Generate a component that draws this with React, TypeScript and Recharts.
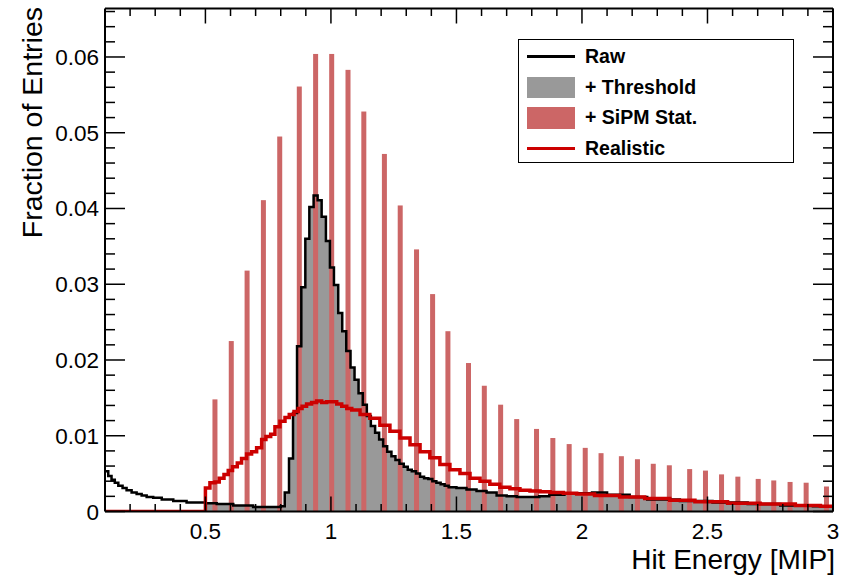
import React from "react";
import { ComposedChart, XAxis, YAxis, Line, Area, Bar } from "recharts";

// ---------- data ----------
// Raw histogram (step edges, value holds until next edge)
const rawX = [0.1, 0.113, 0.126, 0.139, 0.153, 0.17, 0.186, 0.206, 0.226, 0.246, 0.266, 0.292, 0.326, 0.372, 0.425, 0.5, 0.545, 0.611, 0.69, 0.8, 0.816, 0.833, 0.849, 0.865, 0.882, 0.898, 0.914, 0.931, 0.947, 0.963, 0.98, 0.996, 1.012, 1.029, 1.045, 1.061, 1.078, 1.094, 1.11, 1.127, 1.143, 1.159, 1.176, 1.192, 1.208, 1.224, 1.241, 1.257, 1.273, 1.29, 1.306, 1.322, 1.339, 1.355, 1.371, 1.388, 1.404, 1.42, 1.437, 1.453, 1.469, 1.5, 1.54, 1.58, 1.62, 1.66, 1.7, 1.74, 1.83, 1.87, 1.93, 2.04, 2.1, 2.19, 2.26, 2.39, 2.52, 2.66, 2.79, 2.92, 3.0];
const rawY = [0.0053, 0.0047, 0.0042, 0.0038, 0.0034, 0.0031, 0.0028, 0.0025, 0.0023, 0.0021, 0.0019, 0.0018, 0.0016, 0.0014, 0.0012, 0.0011, 0.001, 0.0008, 0.0006, 0.0007, 0.0025, 0.007, 0.013, 0.0218, 0.0296, 0.036, 0.0402, 0.0417, 0.0411, 0.0389, 0.0357, 0.0322, 0.0299, 0.0262, 0.0238, 0.0212, 0.019, 0.0174, 0.0156, 0.0141, 0.0126, 0.0113, 0.0104, 0.0095, 0.0086, 0.0079, 0.0073, 0.0068, 0.0063, 0.0059, 0.0055, 0.0053, 0.005, 0.0046, 0.0044, 0.0043, 0.004, 0.0038, 0.0036, 0.0034, 0.0032, 0.0031, 0.0029, 0.0027, 0.0025, 0.0021, 0.002, 0.0019, 0.002, 0.0022, 0.0024, 0.0025, 0.0022, 0.0019, 0.0016, 0.0014, 0.0012, 0.001, 0.0008, 0.0007, 0.0007];
const thresholdCut = 0.5;

// Realistic histogram
const realX = [0.1, 0.5, 0.518, 0.538, 0.555, 0.574, 0.591, 0.608, 0.627, 0.644, 0.664, 0.684, 0.704, 0.724, 0.741, 0.76, 0.777, 0.797, 0.817, 0.834, 0.853, 0.87, 0.885, 0.903, 0.923, 0.943, 0.963, 0.983, 1.003, 1.023, 1.043, 1.063, 1.083, 1.116, 1.155, 1.195, 1.235, 1.275, 1.315, 1.355, 1.394, 1.434, 1.474, 1.514, 1.554, 1.594, 1.633, 1.673, 1.713, 1.753, 1.793, 1.833, 1.873, 1.926, 1.979, 2.05, 2.15, 2.25, 2.35, 2.45, 2.58, 2.71, 2.85, 2.95, 3.0];
const realY = [0, 0.0031, 0.0038, 0.0039, 0.0044, 0.0049, 0.0054, 0.0059, 0.0064, 0.007, 0.0076, 0.0079, 0.0084, 0.0095, 0.0099, 0.0102, 0.0112, 0.0119, 0.0124, 0.0128, 0.0132, 0.0136, 0.0139, 0.0142, 0.0144, 0.0146, 0.0144, 0.0145, 0.0145, 0.0142, 0.0139, 0.0136, 0.0134, 0.0128, 0.0123, 0.0114, 0.0106, 0.0097, 0.0088, 0.0079, 0.0071, 0.0062, 0.0055, 0.005, 0.0044, 0.004, 0.0036, 0.0032, 0.003, 0.0028, 0.0027, 0.0026, 0.0025, 0.0024, 0.0023, 0.0021, 0.0019, 0.0017, 0.0015, 0.0013, 0.0011, 0.001, 0.0008, 0.0007, 0.0007];

// SiPM statistics spikes
const sipmX = [0.538, 0.603, 0.666, 0.731, 0.796, 0.874, 0.939, 1.003, 1.068, 1.131, 1.213, 1.276, 1.341, 1.405, 1.466, 1.548, 1.611, 1.676, 1.74, 1.819, 1.884, 1.949, 2.013, 2.076, 2.157, 2.221, 2.284, 2.348, 2.429, 2.492, 2.556, 2.621, 2.702, 2.764, 2.829, 2.893, 2.974];
const sipmY = [0.0148, 0.0225, 0.0318, 0.0411, 0.0495, 0.0561, 0.0604, 0.0604, 0.0583, 0.0528, 0.0472, 0.0404, 0.0346, 0.0287, 0.0238, 0.0196, 0.0166, 0.0141, 0.0122, 0.0109, 0.0097, 0.0089, 0.0084, 0.0077, 0.0073, 0.0069, 0.0063, 0.0061, 0.0056, 0.0054, 0.0049, 0.0046, 0.0043, 0.0041, 0.0039, 0.0038, 0.0033];

// Axis ticks
const xMajorTicks = [0.5, 1, 1.5, 2, 2.5, 3];
const xMinorTicks = [0.2, 0.3, 0.4, 0.6, 0.7, 0.8, 0.9, 1.1, 1.2, 1.3, 1.4, 1.6, 1.7, 1.8, 1.9, 2.1, 2.2, 2.3, 2.4, 2.6, 2.7, 2.8, 2.9];
const yMajorTicks = [0, 0.01, 0.02, 0.03, 0.04, 0.05, 0.06];
const yMinorTicks = [0.002, 0.004, 0.006, 0.008, 0.012, 0.014, 0.016, 0.018, 0.022, 0.024, 0.026, 0.028, 0.032, 0.034, 0.036, 0.038, 0.042, 0.044, 0.046, 0.048, 0.052, 0.054, 0.056, 0.058, 0.062, 0.064, 0.066];
const xDomain = [0.1, 3];
const yDomain = [0, 0.0664];

const legendItems = ["Raw", "+ Threshold", "+ SiPM Stat.", "Realistic"];
const xTitle = "Hit Energy [MIP]";
const yTitle = "Fraction of Entries";

// ---------- build the table ----------
type Row = { x: number; raw?: number; thr?: number; real?: number; sipm?: number };
function buildTable(): Row[] {
  const map = new Map<number, Row>();
  const get = (x: number) => {
    let r = map.get(x);
    if (!r) {
      r = { x };
      map.set(x, r);
    }
    return r;
  };
  rawX.forEach((x, i) => {
    get(x).raw = rawY[i];
    if (x >= thresholdCut) get(x).thr = rawY[i];
  });
  realX.forEach((x, i) => (get(x).real = realY[i]));
  sipmX.forEach((x, i) => (get(x).sipm = sipmY[i]));
  return Array.from(map.values()).sort((a, b) => a.x - b.x);
}
const table = buildTable();

const FONT = "'Liberation Sans', Arial, Helvetica, sans-serif";
const TICK_FS = 22.5;
const TITLE_FS = 28;

const xTicksAll = [...xMajorTicks, ...xMinorTicks].sort((a, b) => a - b);
const yTicksAll = [...yMajorTicks, ...yMinorTicks].sort((a, b) => a - b);

const BottomTick = (p: any) => {
  const v = p.payload.value;
  const major = xMajorTicks.includes(v);
  return (
    <g>
      <line x1={p.x} x2={p.x} y1={p.y} y2={p.y - (major ? 15 : 7.5)} stroke="#000" strokeWidth={1.5} />
      {major && (
        <text x={p.x} y={p.y + 27} textAnchor="middle" fontSize={TICK_FS} fontFamily={FONT} fill="#000">
          {String(v)}
        </text>
      )}
    </g>
  );
};
const TopTick = (p: any) => {
  const v = p.payload.value;
  const major = xMajorTicks.includes(v);
  return <line x1={p.x} x2={p.x} y1={p.y} y2={p.y + (major ? 15 : 7.5)} stroke="#000" strokeWidth={1.5} />;
};
const LeftTick = (p: any) => {
  const v = p.payload.value;
  const major = yMajorTicks.includes(v);
  return (
    <g>
      <line x1={p.x} x2={p.x + (major ? 20 : 10)} y1={p.y} y2={p.y} stroke="#000" strokeWidth={1.5} />
      {major && (
        <text x={p.x - 6} y={p.y + 8} textAnchor="end" fontSize={TICK_FS} fontFamily={FONT} fill="#000">
          {String(v)}
        </text>
      )}
    </g>
  );
};
const RightTick = (p: any) => {
  const v = p.payload.value;
  const major = yMajorTicks.includes(v);
  return <line x1={p.x} x2={p.x - (major ? 20 : 10)} y1={p.y} y2={p.y} stroke="#000" strokeWidth={1.5} />;
};

// spike drawn centred on its x value with a fixed pixel width
const SpikeShape = (p: any) => {
  if (p.height == null || !isFinite(p.height) || p.height === 0) return null;
  const cx = p.x + (p.width || 0) / 2;
  const top = Math.min(p.y, p.y + p.height);
  const h = Math.abs(p.height);
  return <rect x={cx - 2.5} y={top} width={5} height={h} fill="#cc6666" />;
};

const XTitle = (p: any) => {
  const vb = p.viewBox || { x: 105, y: 511.5, width: 728 };
  return (
    <text x={vb.x + vb.width + 2} y={vb.y + 57.5} textAnchor="end" fontSize={TITLE_FS} fontFamily={FONT} fill="#000">
      {xTitle}
    </text>
  );
};
const YTitle = (p: any) => {
  const tx = 42;
  const ty = 7;
  return (
    <text x={tx} y={ty} transform={`rotate(-90, ${tx}, ${ty})`} textAnchor="end" fontSize={28.5} fontFamily={FONT} fill="#000">
      {yTitle}
    </text>
  );
};

const axisLine = { stroke: "#000", strokeWidth: 2 };

function LegendBox() {
  const rowH = 30.7;
  const swatch = (i: number) => {
    if (i === 0) return <div style={{ width: 48, height: 2.5, background: "#000" }} />;
    if (i === 1) return <div style={{ width: 48, height: 21, background: "#999999" }} />;
    if (i === 2) return <div style={{ width: 48, height: 22, background: "#cc6666" }} />;
    return <div style={{ width: 48, height: 3.5, background: "#cc0000" }} />;
  };
  return (
    <div
      style={{
        position: "absolute",
        left: 518,
        top: 39,
        width: 276,
        height: 124,
        boxSizing: "border-box",
        border: "1.5px solid #000",
        background: "#fff",
        fontFamily: FONT,
      }}
    >
      {legendItems.map((t, i) => (
        <div
          key={t}
          style={{
            position: "absolute",
            left: 8,
            top: 1 + i * rowH,
            height: rowH,
            display: "flex",
            alignItems: "center",
          }}
        >
          <div style={{ width: 48, display: "flex", alignItems: "center", justifyContent: "center" }}>{swatch(i)}</div>
          <span style={{ marginLeft: 10, fontSize: 19.5, fontWeight: "bold", color: "#000", whiteSpace: "nowrap" }}>{t}</span>
        </div>
      ))}
    </div>
  );
}

export default function App() {
  return (
    <div style={{ position: "absolute", left: 0, top: 0, width: 849, height: 576, background: "#fff", overflow: "hidden" }}>
      <ComposedChart
        width={849}
        height={576}
        data={table}
        margin={{ top: 7.5, right: 15, bottom: 63.5, left: 104 }}
      >
        <XAxis
          xAxisId="b"
          dataKey="x"
          type="number"
          domain={xDomain}
          allowDataOverflow
          ticks={xTicksAll}
          interval={0}
          tick={<BottomTick />}
          tickLine={false}
          tickSize={0}
          tickMargin={0}
          axisLine={axisLine}
          height={1}
          orientation="bottom"
          label={<XTitle />}
        />
        <XAxis
          xAxisId="t"
          dataKey="x"
          type="number"
          domain={xDomain}
          allowDataOverflow
          ticks={xTicksAll}
          interval={0}
          tick={<TopTick />}
          tickLine={false}
          tickSize={0}
          tickMargin={0}
          axisLine={axisLine}
          height={1}
          orientation="top"
        />
        <YAxis
          yAxisId="l"
          type="number"
          domain={yDomain}
          allowDataOverflow
          ticks={yTicksAll}
          interval={0}
          tick={<LeftTick />}
          tickLine={false}
          tickSize={0}
          tickMargin={0}
          axisLine={axisLine}
          width={1}
          orientation="left"
          label={<YTitle />}
        />
        <YAxis
          yAxisId="r"
          type="number"
          domain={yDomain}
          allowDataOverflow
          ticks={yTicksAll}
          interval={0}
          tick={<RightTick />}
          tickLine={false}
          tickSize={0}
          tickMargin={0}
          axisLine={axisLine}
          width={1}
          orientation="right"
        />
        <Area
          xAxisId="b"
          yAxisId="l"
          dataKey="thr"
          type="stepAfter"
          stroke="none"
          fill="#999999"
          fillOpacity={1}
          connectNulls
          dot={false}
          activeDot={false}
          isAnimationActive={false}
        />
        <Bar xAxisId="b" yAxisId="l" dataKey="sipm" fill="#cc6666" shape={<SpikeShape />} isAnimationActive={false} />
        <Line
          xAxisId="b"
          yAxisId="l"
          dataKey="raw"
          type="stepAfter"
          stroke="#000"
          strokeWidth={2.5}
          connectNulls
          dot={false}
          activeDot={false}
          isAnimationActive={false}
        />
        <Line
          xAxisId="b"
          yAxisId="l"
          dataKey="real"
          type="stepAfter"
          stroke="#cc0000"
          strokeWidth={3.5}
          connectNulls
          dot={false}
          activeDot={false}
          isAnimationActive={false}
        />
      </ComposedChart>
      <LegendBox />
    </div>
  );
}
